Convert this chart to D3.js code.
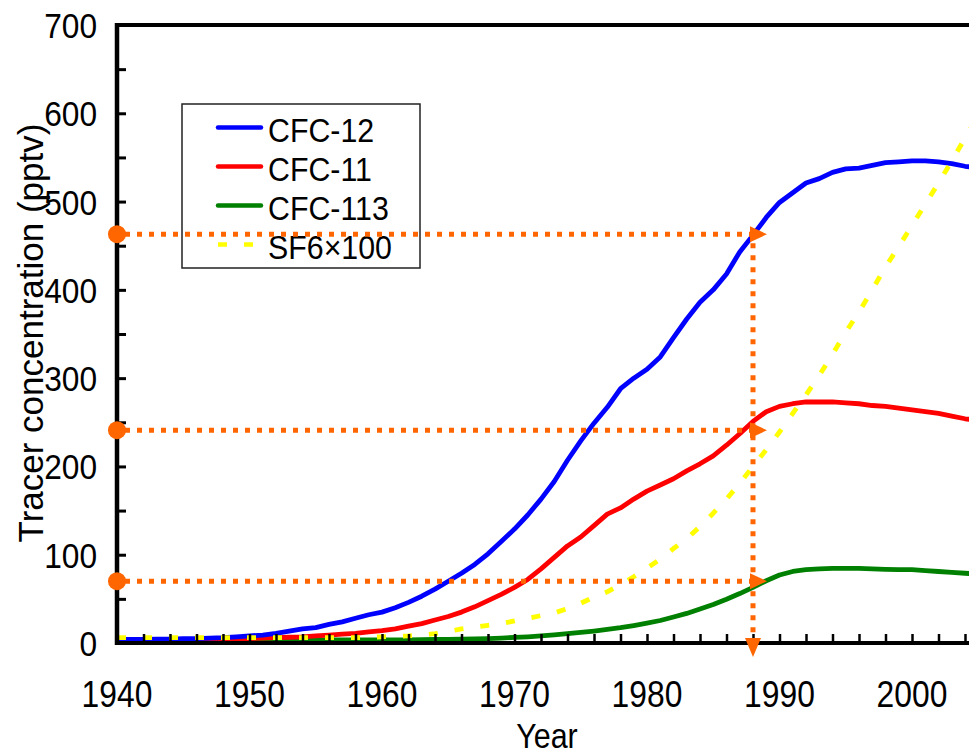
<!DOCTYPE html>
<html><head><meta charset="utf-8">
<script src="https://cdn.jsdelivr.net/npm/d3@7"></script>
<style>
body{margin:0;background:#fff;overflow:hidden}
text{font-family:Arial,"Liberation Sans",sans-serif;fill:#000}
</style>
</head><body>
<svg id="c" width="969" height="754"></svg>
<script>
// ---------- data ----------
const years = d3.range(1940, 2006);
const cfc12 = [4,4,4,4.5,4.5,5,5,5.5,6,7,
  8,9,11,13.5,16,17.5,21,24,28,32,
  35,40,46,53,61,70,79,89,101,115,
  129,145,163,183,207,229,249,267,288,300,
  310,324,346,367,386,400,418,443,462,482,
  499,510,521,526,533,537,538,541,544,545,
  546,546,545,543,540,538];
const cfc11 = [3.5,3.5,3.5,3.5,3.5,3.5,3.5,4,4,4.5,
  5,5.5,6,6.5,7,8,9,10,11,12.5,
  14,16,19,22,26,30,35,41,48,55,
  63,72,84,97,110,120,133,146,153,163,
  172,179,186,195,203,212,224,237,251,262,
  268,271,273,273,273,272,271,269,268,266,
  264,262,260,257,254,252];
const cfc113 = [3.5,3.5,3.5,3.5,3.5,3.5,3.5,3.5,3.5,3.5,
  3.5,3.5,3.5,3.5,3.5,3.5,3.5,3.5,3.5,3.5,
  3.5,3.5,3.5,3.8,4,4.2,4.4,4.6,5,5.6,
  6.3,7,8,9.3,10.6,12,13.5,15.3,17.3,19.8,
  22.5,25.5,29.5,33.5,38.5,43.5,49.5,56,63,70.5,
  77,81,83,84,84.5,84.5,84.5,84,83.5,83,
  83,82,81,80,79,78];
const sf6x100 = [6,6,6,6,6,6,6,6,6,6,
  6,6,6,6,6,6,6,6,6,6.5,
  7,7.5,8,9,10.5,13,16,18,20,22,
  25,28,31,34,39,45,52,58,66,75,
  85,95,107,118,132,147,163,181,200,219,
  239,260,281,303,327,352,375,400,426,449,
  473,497,521,546,572,597];
const seriesNames = ["CFC-12","CFC-11","CFC-113","SF6×100"];
const seriesColors = ["#0000ff","#ff0000","#008000","#ffff00"];
const xTickLabels = [1940,1950,1960,1970,1980,1990,2000];
const yTickLabels = [0,100,200,300,400,500,600,700];
const markerYear = 1988;
const markerValues = [463, 241, 70];

// ---------- scales ----------
const svg = d3.select("#c");
const x = d3.scaleLinear().domain([1940, 2010]).range([117, 1044.5]);
const y = d3.scaleLinear().domain([0, 700]).range([643, 25]);

// ---------- data lines ----------
const mk = vals => years.map((yr, i) => [yr, vals[i]]);
const line = d3.line().x(d => x(d[0])).y(d => y(d[1]));
const allSeries = [cfc12, cfc11, cfc113, sf6x100];
const drawOrder = [2, 1, 0, 3];
drawOrder.forEach(i => {
  const p = svg.append("path").datum(mk(allSeries[i]))
    .attr("d", line).attr("fill", "none")
    .attr("stroke", seriesColors[i]).attr("stroke-width", 4.8)
    .attr("stroke-linejoin", "round");
  if (i === 3) p.attr("stroke-dasharray", "9,17");
});

// ---------- axes ----------
svg.append("g").attr("transform", `translate(0,${y(0)})`)
  .call(d3.axisBottom(x).tickValues(d3.range(1942, 2010, 2)).tickSizeInner(-9).tickSizeOuter(0).tickFormat(""))
  .call(g => g.select(".domain").remove())
  .call(g => g.selectAll(".tick line").attr("stroke", "#000").attr("stroke-width", 2.5));
svg.append("g").attr("transform", `translate(${x(1940)},0)`)
  .call(d3.axisRight(y).tickValues(d3.range(50, 700, 50)).tickSizeInner(9).tickSizeOuter(0).tickFormat(""))
  .call(g => g.select(".domain").remove())
  .call(g => g.selectAll(".tick line").attr("stroke", "#000").attr("stroke-width", 3));
svg.append("line").attr("x1", x(1940)).attr("x2", x(1940)).attr("y1", y(700) - 2).attr("y2", y(0) + 2)
  .attr("stroke", "#000").attr("stroke-width", 4.5);
svg.append("line").attr("x1", x(1940) - 2).attr("x2", x(2010)).attr("y1", y(0)).attr("y2", y(0))
  .attr("stroke", "#000").attr("stroke-width", 4);
svg.append("line").attr("x1", x(1940) - 2).attr("x2", x(2010)).attr("y1", y(700)).attr("y2", y(700))
  .attr("stroke", "#000").attr("stroke-width", 4);

// tick labels
svg.append("g").selectAll("text").data(xTickLabels).join("text")
  .attr("transform", d => `translate(${x(d)},707) scale(0.86,1)`)
  .attr("text-anchor", "middle").attr("font-size", 37).text(d => d);
svg.append("g").selectAll("text").data(yTickLabels).join("text")
  .attr("transform", d => `translate(97,${y(d) + 13}) scale(0.88,1)`)
  .attr("text-anchor", "end").attr("font-size", 36).text(d => d);

// axis titles
svg.append("text").attr("transform", "translate(547,748) scale(0.87,1)")
  .attr("text-anchor", "middle").attr("font-size", 35).text("Year");
svg.append("text").attr("transform", "translate(43,333) rotate(-90)")
  .attr("text-anchor", "middle").attr("font-size", 35).text("Tracer concentration (pptv)");

// ---------- legend ----------
const lg = svg.append("g");
lg.append("rect").attr("x", 182).attr("y", 104).attr("width", 238).attr("height", 164)
  .attr("fill", "#fff").attr("stroke", "#222").attr("stroke-width", 1.5);
seriesNames.forEach((n, i) => {
  const ry = 127.5 + i * 39;
  const l = lg.append("line").attr("x1", 218).attr("x2", 261).attr("y1", ry).attr("y2", ry)
    .attr("stroke", seriesColors[i]).attr("stroke-width", 4.5);
  if (i === 3) l.attr("stroke-dasharray", "9,17");
  else l.attr("stroke-linecap", "round");
  lg.append("text").attr("transform", `translate(268,${ry + 14}) scale(0.92,1)`)
    .attr("font-size", 33).text(n);
});

// ---------- orange annotation ----------
const orange = "#ff6600";
const xm = x(markerYear);
const ann = svg.append("g");
markerValues.forEach(v => {
  ann.append("line").attr("x1", x(1940) + 8).attr("x2", xm - 3).attr("y1", y(v)).attr("y2", y(v))
    .attr("stroke", orange).attr("stroke-width", 5).attr("stroke-dasharray", "5,7");
  ann.append("path")
    .attr("d", `M${xm - 3},${y(v) - 8}L${xm + 14},${y(v)}L${xm - 3},${y(v) + 8}Z`)
    .attr("fill", orange);
  ann.append("circle").attr("cx", x(1940)).attr("cy", y(v)).attr("r", 9).attr("fill", orange);
});
ann.append("line").attr("x1", xm).attr("x2", xm).attr("y1", y(markerValues[0]) + 9).attr("y2", y(0) - 3)
  .attr("stroke", orange).attr("stroke-width", 5).attr("stroke-dasharray", "5,7");
ann.append("path")
  .attr("d", `M${xm - 8},${y(0) - 5}L${xm},${y(0) + 14}L${xm + 8},${y(0) - 5}Z`)
  .attr("fill", orange);
</script>
</body></html>
